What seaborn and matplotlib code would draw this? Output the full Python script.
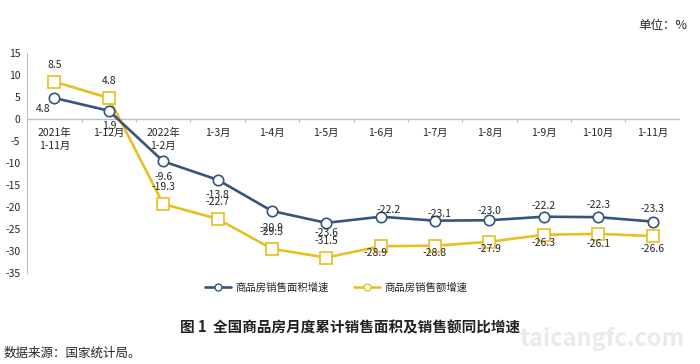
import numpy as np
import pandas as pd
import matplotlib
matplotlib.use('Agg')
import matplotlib.pyplot as plt
import seaborn as sns
from matplotlib.lines import Line2D

# data
periods = ["2021年\n1-11月", "1-12月", "2022年\n1-2月", "1-3月", "1-4月", "1-5月",
           "1-6月", "1-7月", "1-8月", "1-9月", "1-10月", "1-11月"]
area_growth = [4.8, 1.9, -9.6, -13.8, -20.9, -23.6, -22.2, -23.1, -23.0, -22.2, -22.3, -23.3]
sales_growth = [8.5, 4.8, -19.3, -22.7, -29.5, -31.5, -28.9, -28.8, -27.9, -26.3, -26.1, -26.6]
series_names = ["商品房销售面积增速", "商品房销售额增速"]

sns.set_style("white")
plt.rcParams['font.family'] = ['Noto Sans CJK SC', 'DejaVu Sans']

blue = "#35557c"
yellow = "#e8bf22"

df = pd.DataFrame({"idx": np.arange(len(periods)), "area": area_growth, "sales": sales_growth})

fig = plt.figure(figsize=(7, 3.64), dpi=100)
ax = fig.add_axes([0.039, 0.25, 0.932, 0.604])

sns.lineplot(data=df, x="idx", y="sales", ax=ax, color=yellow, lw=1.9,
             marker="s", markersize=8, markerfacecolor="white",
             markeredgecolor=yellow, markeredgewidth=1.2, zorder=3)
sns.lineplot(data=df, x="idx", y="area", ax=ax, color=blue, lw=1.9,
             marker="o", markersize=7.5, markerfacecolor="white",
             markeredgecolor=blue, markeredgewidth=1.2, zorder=4)

# value labels (offsets in points)
area_offsets = [(-8, -8), (0, -11), (0, -11), (0, -11), (0, -12), (0, -7),
                (6, 5), (3, 5), (0, 7), (0, 8), (0, 9), (0, 9)]
sales_offsets = [(0, 12), (0, 12), (0, 12), (0, 12), (0, 12), (0, 12),
                 (-4, -5), (0, -5), (0, -5), (0, -6), (0, -7), (0, -9)]
for i, v in enumerate(area_growth):
    ax.annotate(f"{v:.1f}", (i, v), xytext=area_offsets[i], textcoords="offset points",
                ha="center", va="center", fontsize=7.5, zorder=5)
for i, v in enumerate(sales_growth):
    ax.annotate(f"{v:.1f}", (i, v), xytext=sales_offsets[i], textcoords="offset points",
                ha="center", va="center", fontsize=7.5, zorder=5)

ax.set_xlim(-0.5, len(periods) - 0.5)
ax.set_ylim(-35, 15)
ax.set_yticks(np.arange(-35, 16, 5))
ax.set_yticklabels([str(t) for t in np.arange(-35, 16, 5)], fontsize=7.5)
ax.set_xlabel("")
ax.set_ylabel("")

# category labels under zero line
ax.set_xticks([])
for i, lab in enumerate(periods):
    ax.text(i, -2.1, lab, ha="center", va="top", fontsize=7.5, linespacing=1.3)
ax.axhline(0, color="#bfbfbf", lw=1, zorder=1)
for b in np.arange(-0.5, len(periods), 1.0):
    ax.plot([b, b], [0, -0.6], color="#bfbfbf", lw=0.8, zorder=1)

for s in ["top", "right", "bottom"]:
    ax.spines[s].set_visible(False)
ax.spines["left"].set_color("#bfbfbf")
ax.tick_params(axis="y", length=3, color="#bfbfbf", pad=2)

handles = [Line2D([], [], color=blue, lw=1.9, marker="o", markersize=5,
                  markerfacecolor="white", markeredgecolor=blue),
           Line2D([], [], color=yellow, lw=1.9, marker="o", markersize=5,
                  markerfacecolor="white", markeredgecolor=yellow)]
fig.legend(handles, series_names, loc="center", bbox_to_anchor=(0.48, 0.21),
           ncol=2, frameon=False, fontsize=7.5, handlelength=2.5, columnspacing=2.4,
           handletextpad=0.4)

fig.text(0.5, 0.10, "图 1  全国商品房月度累计销售面积及销售额同比增速",
         ha="center", va="center", fontsize=10.5, fontweight="bold", color="#222222")
fig.text(0.982, 0.93, "单位：%", ha="right", va="center", fontsize=9)
fig.text(0.005, 0.03, "数据来源：国家统计局。", ha="left", va="center", fontsize=9)
fig.text(0.86, 0.07, "taicangfc.com", ha="center", va="center", fontsize=17,
         fontweight="bold", color="#e8e8e8", alpha=0.9)

fig.savefig("out.png", dpi=100, facecolor="white")
